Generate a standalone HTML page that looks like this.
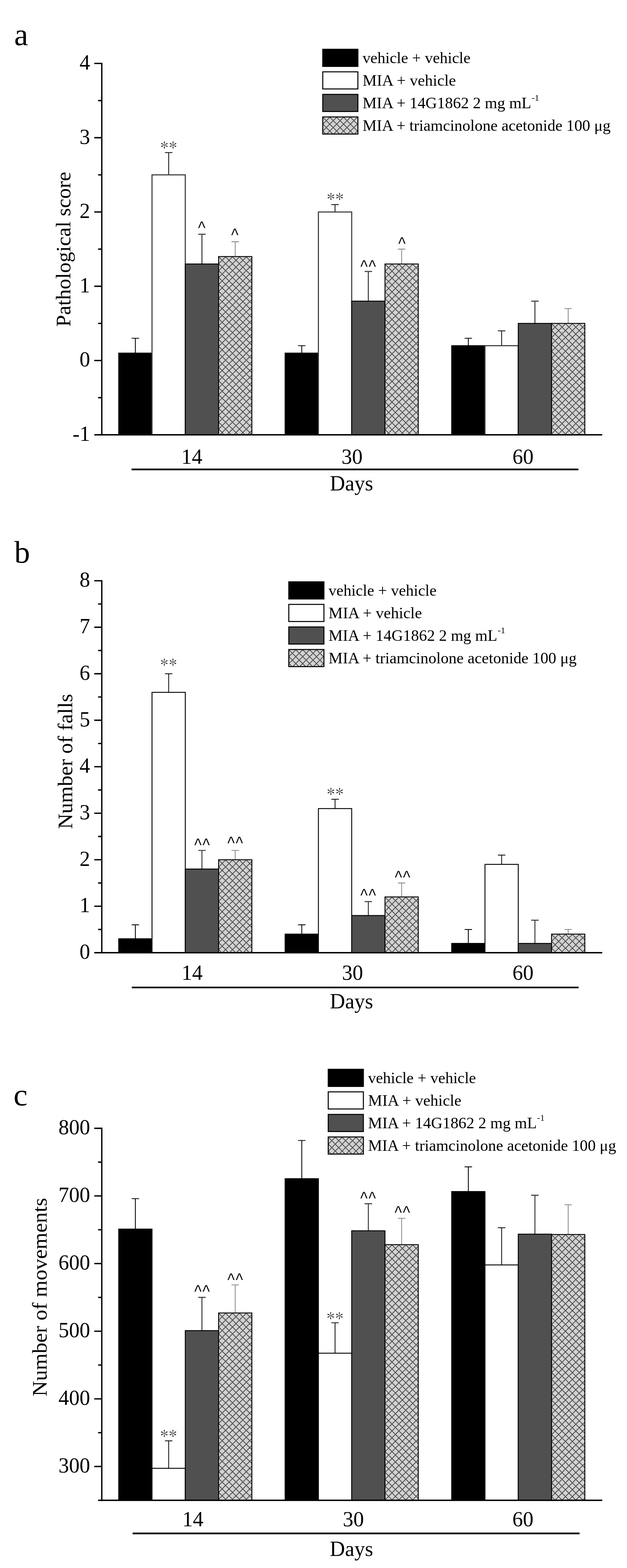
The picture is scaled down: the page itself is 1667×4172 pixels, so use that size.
<!DOCTYPE html>
<html lang="en"><head><meta charset="utf-8"><title>Figure: MIA osteoarthritis model - pathological score, falls and movements</title>
<style>
html,body{margin:0;padding:0;background:#ffffff;}
body{width:1667px;height:4172px;overflow:hidden;}
svg{display:block;}
text{font-family:"Liberation Serif", "DejaVu Serif", serif;fill:#000;}
.ax{font-size:56px;}
.lg{font-size:41.4px;}
.yl{font-size:54.8px;}
.pn{font-size:83.5px;}
.st{font-size:46px;stroke:#ffffff;stroke-width:0.8px;}
.ct{font-size:46px;font-family:"Liberation Sans", "DejaVu Sans", sans-serif;stroke:#ffffff;stroke-width:0.3px;}
</style></head><body>
<svg width="1667" height="4172" viewBox="0 0 1667 4172" role="img" aria-label="Bar charts a, b and c">
<defs>
<path id="hx" d="M-18.03 -145.84l132.66 132.66M-18.03 -127.51l132.66 132.66M-18.03 -109.18l132.66 132.66M-18.03 -90.85l132.66 132.66M-18.03 -72.52l132.66 132.66M-18.03 -54.19l132.66 132.66M-18.03 -35.86l132.66 132.66M-18.03 -17.53l132.66 132.66M-18.03 0.8l132.66 132.66M-18.03 19.13l132.66 132.66M-18.03 37.46l132.66 132.66M-18.03 55.79l132.66 132.66M-18.03 74.12l132.66 132.66M-18.03 92.45l132.66 132.66M-18.03 110.78l132.66 132.66M-18.03 129.11l132.66 132.66M-18.03 147.44l132.66 132.66M-18.03 165.77l132.66 132.66M-18.03 184.1l132.66 132.66M-18.03 202.43l132.66 132.66M-18.03 220.76l132.66 132.66M-18.03 239.09l132.66 132.66M-18.03 257.42l132.66 132.66M-18.03 275.75l132.66 132.66M-18.03 294.08l132.66 132.66M-18.03 312.41l132.66 132.66M-18.03 330.74l132.66 132.66M-18.03 349.07l132.66 132.66M-18.03 367.4l132.66 132.66M-18.03 385.73l132.66 132.66M-18.03 404.06l132.66 132.66M-18.03 422.39l132.66 132.66M-18.03 440.72l132.66 132.66M-18.03 459.05l132.66 132.66M-18.03 477.38l132.66 132.66M-18.03 495.71l132.66 132.66M-18.03 514.04l132.66 132.66M-18.03 532.37l132.66 132.66M-18.03 550.7l132.66 132.66M-18.03 569.03l132.66 132.66M-18.03 587.36l132.66 132.66M-18.03 605.69l132.66 132.66M-18.03 624.02l132.66 132.66M-18.03 642.35l132.66 132.66M-18.03 660.68l132.66 132.66M-18.03 679.01l132.66 132.66M-18.03 697.34l132.66 132.66M-18.03 715.67l132.66 132.66M-18.03 734l132.66 132.66M-18.03 752.33l132.66 132.66M-18.03 770.66l132.66 132.66M-18.03 788.99l132.66 132.66M-18.03 807.32l132.66 132.66M-18.03 825.65l132.66 132.66M-18.03 843.98l132.66 132.66M-18.03 862.31l132.66 132.66M-18.03 880.64l132.66 132.66M-18.03 898.97l132.66 132.66M-18.03 917.3l132.66 132.66M-18.03 935.63l132.66 132.66M-18.03 953.96l132.66 132.66M-18.03 972.29l132.66 132.66M-18.03 990.62l132.66 132.66M-18.03 1008.95l132.66 132.66M-18.03 19.13l132.66 -132.66M-18.03 37.46l132.66 -132.66M-18.03 55.79l132.66 -132.66M-18.03 74.12l132.66 -132.66M-18.03 92.45l132.66 -132.66M-18.03 110.78l132.66 -132.66M-18.03 129.11l132.66 -132.66M-18.03 147.44l132.66 -132.66M-18.03 165.77l132.66 -132.66M-18.03 184.1l132.66 -132.66M-18.03 202.43l132.66 -132.66M-18.03 220.76l132.66 -132.66M-18.03 239.09l132.66 -132.66M-18.03 257.42l132.66 -132.66M-18.03 275.75l132.66 -132.66M-18.03 294.08l132.66 -132.66M-18.03 312.41l132.66 -132.66M-18.03 330.74l132.66 -132.66M-18.03 349.07l132.66 -132.66M-18.03 367.4l132.66 -132.66M-18.03 385.73l132.66 -132.66M-18.03 404.06l132.66 -132.66M-18.03 422.39l132.66 -132.66M-18.03 440.72l132.66 -132.66M-18.03 459.05l132.66 -132.66M-18.03 477.38l132.66 -132.66M-18.03 495.71l132.66 -132.66M-18.03 514.04l132.66 -132.66M-18.03 532.37l132.66 -132.66M-18.03 550.7l132.66 -132.66M-18.03 569.03l132.66 -132.66M-18.03 587.36l132.66 -132.66M-18.03 605.69l132.66 -132.66M-18.03 624.02l132.66 -132.66M-18.03 642.35l132.66 -132.66M-18.03 660.68l132.66 -132.66M-18.03 679.01l132.66 -132.66M-18.03 697.34l132.66 -132.66M-18.03 715.67l132.66 -132.66M-18.03 734l132.66 -132.66M-18.03 752.33l132.66 -132.66M-18.03 770.66l132.66 -132.66M-18.03 788.99l132.66 -132.66M-18.03 807.32l132.66 -132.66M-18.03 825.65l132.66 -132.66M-18.03 843.98l132.66 -132.66M-18.03 862.31l132.66 -132.66M-18.03 880.64l132.66 -132.66M-18.03 898.97l132.66 -132.66M-18.03 917.3l132.66 -132.66M-18.03 935.63l132.66 -132.66M-18.03 953.96l132.66 -132.66M-18.03 972.29l132.66 -132.66M-18.03 990.62l132.66 -132.66M-18.03 1008.95l132.66 -132.66M-18.03 1027.28l132.66 -132.66M-18.03 1045.61l132.66 -132.66M-18.03 1063.94l132.66 -132.66M-18.03 1082.27l132.66 -132.66M-18.03 1100.6l132.66 -132.66M-18.03 1118.93l132.66 -132.66M-18.03 1137.26l132.66 -132.66" fill="none"/>
<g id="hf">
<rect x="-2" y="-2" width="100" height="1004" fill="#d2d2d2"/>
<use href="#hx" stroke="#646464" stroke-width="1.95"/>
<use href="#hx" stroke="#1c1c1c" stroke-width="1.7" stroke-dasharray="1.500 1.740" stroke-dashoffset="0.750"/>
</g>
</defs>
<rect x="0" y="0" width="1667" height="4172" fill="#ffffff"/>
<g id="panel-a">
<path d="M359.9 939.52V899.99M350 899.99H369.8" stroke="#000000" stroke-width="2.2" fill="none"/>
<rect x="315.65" y="939.52" width="88.5" height="217.38" fill="#000000" stroke="#000000" stroke-width="2.4"/>
<path d="M448.4 465.23V405.94M438.5 405.94H458.3" stroke="#2a2a2a" stroke-width="2.5" fill="none"/>
<rect x="404.15" y="465.23" width="88.5" height="691.67" fill="#ffffff" stroke="#3c3c3c" stroke-width="2.9"/>
<path d="M536.9 702.37V623.33M527 623.33H546.8" stroke="#4a4a4a" stroke-width="3.0" fill="none"/>
<rect x="492.65" y="702.37" width="88.5" height="454.53" fill="#505050" stroke="#000000" stroke-width="2.4"/>
<path d="M625.4 682.61V643.09M615.5 643.09H635.3" stroke="#868686" stroke-width="2.1" fill="none"/>
<svg x="581.15" y="682.61" width="88.5" height="474.29" overflow="hidden"><use href="#hf"/></svg>
<rect x="581.15" y="682.61" width="88.5" height="474.29" fill="none" stroke="#000000" stroke-width="2.4"/>
<path d="M802.3 939.52V919.76M792.4 919.76H812.2" stroke="#000000" stroke-width="2.2" fill="none"/>
<rect x="758.05" y="939.52" width="88.5" height="217.38" fill="#000000" stroke="#000000" stroke-width="2.4"/>
<path d="M890.8 564.04V544.28M880.9 544.28H900.7" stroke="#2a2a2a" stroke-width="2.5" fill="none"/>
<rect x="846.55" y="564.04" width="88.5" height="592.86" fill="#ffffff" stroke="#3c3c3c" stroke-width="2.9"/>
<path d="M979.3 801.18V722.14M969.4 722.14H989.2" stroke="#4a4a4a" stroke-width="3.0" fill="none"/>
<rect x="935.05" y="801.18" width="88.5" height="355.72" fill="#505050" stroke="#000000" stroke-width="2.4"/>
<path d="M1067.8 702.37V662.85M1057.9 662.85H1077.7" stroke="#868686" stroke-width="2.1" fill="none"/>
<svg x="1023.55" y="702.37" width="88.5" height="454.53" overflow="hidden"><use href="#hf"/></svg>
<rect x="1023.55" y="702.37" width="88.5" height="454.53" fill="none" stroke="#000000" stroke-width="2.4"/>
<path d="M1245.15 919.76V899.99M1235.25 899.99H1255.05" stroke="#000000" stroke-width="2.2" fill="none"/>
<rect x="1200.9" y="919.76" width="88.5" height="237.14" fill="#000000" stroke="#000000" stroke-width="2.4"/>
<path d="M1333.65 919.76V880.23M1323.75 880.23H1343.55" stroke="#2a2a2a" stroke-width="2.5" fill="none"/>
<rect x="1289.4" y="919.76" width="88.5" height="237.14" fill="#ffffff" stroke="#3c3c3c" stroke-width="2.9"/>
<path d="M1422.15 860.47V801.18M1412.25 801.18H1432.05" stroke="#4a4a4a" stroke-width="3.0" fill="none"/>
<rect x="1377.9" y="860.47" width="88.5" height="296.43" fill="#505050" stroke="#000000" stroke-width="2.4"/>
<path d="M1510.65 860.47V820.95M1500.75 820.95H1520.55" stroke="#868686" stroke-width="2.1" fill="none"/>
<svg x="1466.4" y="860.47" width="88.5" height="296.43" overflow="hidden"><use href="#hf"/></svg>
<rect x="1466.4" y="860.47" width="88.5" height="296.43" fill="none" stroke="#000000" stroke-width="2.4"/>
<path d="M270.6 167V1158.7" stroke="#000" stroke-width="3.6" fill="none"/>
<path d="M268.8 1156.9H1601.2" stroke="#000" stroke-width="3.6" fill="none"/>
<path d="M250.6 168.8H270.6M250.6 366.42H270.6M250.6 564.04H270.6M250.6 761.66H270.6M250.6 959.28H270.6M250.6 1156.9H270.6M260.8 267.61H270.6M260.8 465.23H270.6M260.8 662.85H270.6M260.8 860.47H270.6M260.8 1058.09H270.6" stroke="#000" stroke-width="3.6" fill="none"/>
<text class="ax" x="239.6" y="185" text-anchor="end">4</text>
<text class="ax" x="239.6" y="382.62" text-anchor="end">3</text>
<text class="ax" x="239.6" y="580.24" text-anchor="end">2</text>
<text class="ax" x="239.6" y="777.86" text-anchor="end">1</text>
<text class="ax" x="239.6" y="975.48" text-anchor="end">0</text>
<text class="ax" x="239.6" y="1173.1" text-anchor="end">-1</text>
<text class="yl" transform="translate(186.5 663.2) rotate(-90)" x="-206.05" y="0" textLength="412.1" lengthAdjust="spacingAndGlyphs">Pathological score</text>
<text class="ax" x="509.9" y="1234.3" text-anchor="middle">14</text>
<text class="ax" x="936" y="1234.3" text-anchor="middle">30</text>
<text class="ax" x="1390.6" y="1234.3" text-anchor="middle">60</text>
<path d="M349.8 1249H1537.8" stroke="#000" stroke-width="4.3" fill="none"/>
<text class="ax" x="934.6" y="1304.5" text-anchor="middle">Days</text>
<text class="st" transform="translate(448.45 384.2) scale(1.0 1.17)" x="0" y="22.75" text-anchor="middle">**</text>
<text class="ct" transform="translate(536.3 598.3) scale(0.915 1.095)" x="0" y="22.9" text-anchor="middle">^</text>
<text class="ct" transform="translate(624.4 617.4) scale(0.915 1.095)" x="0" y="22.9" text-anchor="middle">^</text>
<text class="st" transform="translate(891.3 521.8) scale(1.0 1.17)" x="0" y="22.75" text-anchor="middle">**</text>
<text class="ct" transform="translate(978.9 700.85) scale(0.915 1.095)" x="-11.97 11.97" y="22.9" text-anchor="middle">^^</text>
<text class="ct" transform="translate(1068.7 640.1) scale(0.915 1.095)" x="0" y="22.9" text-anchor="middle">^</text>
<rect x="858.1" y="131.1" width="93.4" height="45.6" fill="#000000" stroke="#000000" stroke-width="2.7"/>
<text class="lg" x="963.9" y="168.2" textLength="287" lengthAdjust="spacingAndGlyphs">vehicle + vehicle</text>
<rect x="858.1" y="191.1" width="93.4" height="45.6" fill="#ffffff" stroke="#000000" stroke-width="2.7"/>
<text class="lg" x="963.9" y="228.2" textLength="248.2" lengthAdjust="spacingAndGlyphs">MIA + vehicle</text>
<rect x="858.1" y="251.1" width="93.4" height="45.6" fill="#505050" stroke="#000000" stroke-width="2.7"/>
<text class="lg" x="963.9" y="288.2" textLength="448.6" lengthAdjust="spacingAndGlyphs">MIA + 14G1862 2 mg mL</text>
<text class="lg" x="1413.5" y="268.2" style="font-size:24px">-1</text>
<svg x="858.1" y="311.1" width="93.4" height="45.6" overflow="hidden"><use href="#hf"/></svg>
<rect x="858.1" y="311.1" width="93.4" height="45.6" fill="none" stroke="#000000" stroke-width="2.7"/>
<text class="lg" x="963.9" y="348.2" textLength="659.6" lengthAdjust="spacingAndGlyphs">MIA + triamcinolone acetonide 100 μg</text>
<text class="pn" x="37.8" y="120">a</text>
</g>
<g id="panel-b">
<path d="M359.9 2497.79V2460.67M350 2460.67H369.8" stroke="#000000" stroke-width="2.2" fill="none"/>
<rect x="315.65" y="2497.79" width="88.5" height="37.11" fill="#000000" stroke="#000000" stroke-width="2.4"/>
<path d="M448.4 1842.11V1792.62M438.5 1792.62H458.3" stroke="#101010" stroke-width="2.2" fill="none"/>
<rect x="404.15" y="1842.11" width="88.5" height="692.79" fill="#ffffff" stroke="#000000" stroke-width="2.4"/>
<path d="M536.9 2312.22V2262.73M527 2262.73H546.8" stroke="#424242" stroke-width="2.7" fill="none"/>
<rect x="492.65" y="2312.22" width="88.5" height="222.68" fill="#505050" stroke="#000000" stroke-width="2.4"/>
<path d="M625.4 2287.47V2262.73M615.5 2262.73H635.3" stroke="#868686" stroke-width="2.1" fill="none"/>
<svg x="581.15" y="2287.47" width="88.5" height="247.43" overflow="hidden"><use href="#hf"/></svg>
<rect x="581.15" y="2287.47" width="88.5" height="247.43" fill="none" stroke="#000000" stroke-width="2.4"/>
<path d="M802.3 2485.41V2460.67M792.4 2460.67H812.2" stroke="#000000" stroke-width="2.2" fill="none"/>
<rect x="758.05" y="2485.41" width="88.5" height="49.49" fill="#000000" stroke="#000000" stroke-width="2.4"/>
<path d="M890.8 2151.39V2126.65M880.9 2126.65H900.7" stroke="#101010" stroke-width="2.2" fill="none"/>
<rect x="846.55" y="2151.39" width="88.5" height="383.51" fill="#ffffff" stroke="#000000" stroke-width="2.4"/>
<path d="M979.3 2435.93V2398.82M969.4 2398.82H989.2" stroke="#424242" stroke-width="2.7" fill="none"/>
<rect x="935.05" y="2435.93" width="88.5" height="98.97" fill="#505050" stroke="#000000" stroke-width="2.4"/>
<path d="M1067.8 2386.45V2349.33M1057.9 2349.33H1077.7" stroke="#868686" stroke-width="2.1" fill="none"/>
<svg x="1023.55" y="2386.45" width="88.5" height="148.45" overflow="hidden"><use href="#hf"/></svg>
<rect x="1023.55" y="2386.45" width="88.5" height="148.45" fill="none" stroke="#000000" stroke-width="2.4"/>
<path d="M1245.15 2510.16V2473.04M1235.25 2473.04H1255.05" stroke="#000000" stroke-width="2.2" fill="none"/>
<rect x="1200.9" y="2510.16" width="88.5" height="24.74" fill="#000000" stroke="#000000" stroke-width="2.4"/>
<path d="M1333.65 2299.85V2275.1M1323.75 2275.1H1343.55" stroke="#101010" stroke-width="2.2" fill="none"/>
<rect x="1289.4" y="2299.85" width="88.5" height="235.05" fill="#ffffff" stroke="#000000" stroke-width="2.4"/>
<path d="M1422.15 2510.16V2448.3M1412.25 2448.3H1432.05" stroke="#424242" stroke-width="2.7" fill="none"/>
<rect x="1377.9" y="2510.16" width="88.5" height="24.74" fill="#505050" stroke="#000000" stroke-width="2.4"/>
<path d="M1510.65 2485.41V2473.04M1500.75 2473.04H1520.55" stroke="#868686" stroke-width="2.1" fill="none"/>
<svg x="1466.4" y="2485.41" width="88.5" height="49.49" overflow="hidden"><use href="#hf"/></svg>
<rect x="1466.4" y="2485.41" width="88.5" height="49.49" fill="none" stroke="#000000" stroke-width="2.4"/>
<path d="M270.6 1543.4V2536.7" stroke="#000" stroke-width="3.6" fill="none"/>
<path d="M268.8 2534.9H1601.2" stroke="#000" stroke-width="3.6" fill="none"/>
<path d="M250.6 1545.2H270.6M250.6 1668.91H270.6M250.6 1792.62H270.6M250.6 1916.34H270.6M250.6 2040.05H270.6M250.6 2163.76H270.6M250.6 2287.47H270.6M250.6 2411.19H270.6M250.6 2534.9H270.6M260.8 1607.06H270.6M260.8 1730.77H270.6M260.8 1854.48H270.6M260.8 1978.19H270.6M260.8 2101.91H270.6M260.8 2225.62H270.6M260.8 2349.33H270.6M260.8 2473.04H270.6" stroke="#000" stroke-width="3.6" fill="none"/>
<text class="ax" x="239.6" y="1561.4" text-anchor="end">8</text>
<text class="ax" x="239.6" y="1685.11" text-anchor="end">7</text>
<text class="ax" x="239.6" y="1808.83" text-anchor="end">6</text>
<text class="ax" x="239.6" y="1932.54" text-anchor="end">5</text>
<text class="ax" x="239.6" y="2056.25" text-anchor="end">4</text>
<text class="ax" x="239.6" y="2179.96" text-anchor="end">3</text>
<text class="ax" x="239.6" y="2303.67" text-anchor="end">2</text>
<text class="ax" x="239.6" y="2427.39" text-anchor="end">1</text>
<text class="ax" x="239.6" y="2551.1" text-anchor="end">0</text>
<text class="yl" transform="translate(191.7 2025.9) rotate(-90)" x="-179.75" y="0" textLength="359.5" lengthAdjust="spacingAndGlyphs">Number of falls</text>
<text class="ax" x="510.8" y="2607.4" text-anchor="middle">14</text>
<text class="ax" x="937.2" y="2607.4" text-anchor="middle">30</text>
<text class="ax" x="1390.6" y="2607.4" text-anchor="middle">60</text>
<path d="M350.5 2627.4H1538.3" stroke="#000" stroke-width="4.3" fill="none"/>
<text class="ax" x="934.6" y="2683" text-anchor="middle">Days</text>
<text class="st" transform="translate(448.35 1760.4) scale(1.0 1.17)" x="0" y="22.75" text-anchor="middle">**</text>
<text class="ct" transform="translate(537.3 2240.3) scale(0.915 1.095)" x="-11.97 11.97" y="22.9" text-anchor="middle">^^</text>
<text class="ct" transform="translate(625.4 2234.5) scale(0.915 1.095)" x="-11.97 11.97" y="22.9" text-anchor="middle">^^</text>
<text class="st" transform="translate(891.3 2104.1) scale(1.0 1.17)" x="0" y="22.75" text-anchor="middle">**</text>
<text class="ct" transform="translate(978.9 2374.3) scale(0.915 1.095)" x="-11.97 11.97" y="22.9" text-anchor="middle">^^</text>
<text class="ct" transform="translate(1070.2 2326.3) scale(0.915 1.095)" x="-11.97 11.97" y="22.9" text-anchor="middle">^^</text>
<rect x="767.8" y="1548.1" width="93.4" height="45.6" fill="#000000" stroke="#000000" stroke-width="2.7"/>
<text class="lg" x="873.6" y="1585.2" textLength="287" lengthAdjust="spacingAndGlyphs">vehicle + vehicle</text>
<rect x="767.8" y="1608.1" width="93.4" height="45.6" fill="#ffffff" stroke="#000000" stroke-width="2.7"/>
<text class="lg" x="873.6" y="1645.2" textLength="248.2" lengthAdjust="spacingAndGlyphs">MIA + vehicle</text>
<rect x="767.8" y="1668.1" width="93.4" height="45.6" fill="#505050" stroke="#000000" stroke-width="2.7"/>
<text class="lg" x="873.6" y="1705.2" textLength="448.6" lengthAdjust="spacingAndGlyphs">MIA + 14G1862 2 mg mL</text>
<text class="lg" x="1323.2" y="1685.2" style="font-size:24px">-1</text>
<svg x="767.8" y="1728.1" width="93.4" height="45.6" overflow="hidden"><use href="#hf"/></svg>
<rect x="767.8" y="1728.1" width="93.4" height="45.6" fill="none" stroke="#000000" stroke-width="2.7"/>
<text class="lg" x="873.6" y="1765.2" textLength="659.6" lengthAdjust="spacingAndGlyphs">MIA + triamcinolone acetonide 100 μg</text>
<text class="pn" x="38" y="1496.6">b</text>
</g>
<g id="panel-c">
<path d="M359.9 3270.25V3189.26M350 3189.26H369.8" stroke="#000000" stroke-width="2.2" fill="none"/>
<rect x="315.65" y="3270.25" width="88.5" height="721.65" fill="#000000" stroke="#000000" stroke-width="2.4"/>
<path d="M448.4 3906.78V3833.53M438.5 3833.53H458.3" stroke="#101010" stroke-width="2.2" fill="none"/>
<rect x="404.15" y="3906.78" width="88.5" height="85.12" fill="#ffffff" stroke="#000000" stroke-width="2.4"/>
<path d="M536.9 3540.37V3452.01M527 3452.01H546.8" stroke="#454545" stroke-width="2.8" fill="none"/>
<rect x="492.65" y="3540.37" width="88.5" height="451.53" fill="#505050" stroke="#000000" stroke-width="2.4"/>
<path d="M625.4 3493.4V3418.72M615.5 3418.72H635.3" stroke="#868686" stroke-width="2.1" fill="none"/>
<svg x="581.15" y="3493.4" width="88.5" height="498.5" overflow="hidden"><use href="#hf"/></svg>
<rect x="581.15" y="3493.4" width="88.5" height="498.5" fill="none" stroke="#000000" stroke-width="2.4"/>
<path d="M802.3 3136.17V3034.49M792.4 3034.49H812.2" stroke="#000000" stroke-width="2.2" fill="none"/>
<rect x="758.05" y="3136.17" width="88.5" height="855.73" fill="#000000" stroke="#000000" stroke-width="2.4"/>
<path d="M890.8 3600.48V3519.5M880.9 3519.5H900.7" stroke="#101010" stroke-width="2.2" fill="none"/>
<rect x="846.55" y="3600.48" width="88.5" height="391.42" fill="#ffffff" stroke="#000000" stroke-width="2.4"/>
<path d="M979.3 3274.74V3202.76M969.4 3202.76H989.2" stroke="#454545" stroke-width="2.8" fill="none"/>
<rect x="935.05" y="3274.74" width="88.5" height="717.16" fill="#505050" stroke="#000000" stroke-width="2.4"/>
<path d="M1067.8 3311.64V3241.45M1057.9 3241.45H1077.7" stroke="#868686" stroke-width="2.1" fill="none"/>
<svg x="1023.55" y="3311.64" width="88.5" height="680.26" overflow="hidden"><use href="#hf"/></svg>
<rect x="1023.55" y="3311.64" width="88.5" height="680.26" fill="none" stroke="#000000" stroke-width="2.4"/>
<path d="M1245.15 3170.37V3104.68M1235.25 3104.68H1255.05" stroke="#000000" stroke-width="2.2" fill="none"/>
<rect x="1200.9" y="3170.37" width="88.5" height="821.53" fill="#000000" stroke="#000000" stroke-width="2.4"/>
<path d="M1333.65 3365.63V3266.65M1323.75 3266.65H1343.55" stroke="#101010" stroke-width="2.2" fill="none"/>
<rect x="1289.4" y="3365.63" width="88.5" height="626.27" fill="#ffffff" stroke="#000000" stroke-width="2.4"/>
<path d="M1422.15 3283.74V3180.26M1412.25 3180.26H1432.05" stroke="#454545" stroke-width="2.8" fill="none"/>
<rect x="1377.9" y="3283.74" width="88.5" height="708.16" fill="#505050" stroke="#000000" stroke-width="2.4"/>
<path d="M1510.65 3284.64V3205.46M1500.75 3205.46H1520.55" stroke="#868686" stroke-width="2.1" fill="none"/>
<svg x="1466.4" y="3284.64" width="88.5" height="707.26" overflow="hidden"><use href="#hf"/></svg>
<rect x="1466.4" y="3284.64" width="88.5" height="707.26" fill="none" stroke="#000000" stroke-width="2.4"/>
<path d="M270.6 3000.3V3993.7" stroke="#000" stroke-width="3.6" fill="none"/>
<path d="M268.8 3991.9H1601.2" stroke="#000" stroke-width="3.6" fill="none"/>
<path d="M250.6 3002.1H270.6M250.6 3182.06H270.6M250.6 3362.03H270.6M250.6 3541.99H270.6M250.6 3721.95H270.6M250.6 3901.92H270.6M260.8 3092.08H270.6M260.8 3272.05H270.6M260.8 3452.01H270.6M260.8 3631.97H270.6M260.8 3811.94H270.6M260.8 3991.9H270.6" stroke="#000" stroke-width="3.6" fill="none"/>
<text class="ax" x="239.6" y="3018.3" text-anchor="end">800</text>
<text class="ax" x="239.6" y="3198.26" text-anchor="end">700</text>
<text class="ax" x="239.6" y="3378.23" text-anchor="end">600</text>
<text class="ax" x="239.6" y="3558.19" text-anchor="end">500</text>
<text class="ax" x="239.6" y="3738.15" text-anchor="end">400</text>
<text class="ax" x="239.6" y="3918.12" text-anchor="end">300</text>
<text class="yl" transform="translate(124 3451.4) rotate(-90)" x="-264.1" y="0" textLength="528.2" lengthAdjust="spacingAndGlyphs">Number of movements</text>
<text class="ax" x="512.7" y="4061" text-anchor="middle">14</text>
<text class="ax" x="939.6" y="4061" text-anchor="middle">30</text>
<text class="ax" x="1390.3" y="4061" text-anchor="middle">60</text>
<path d="M352.6 4080H1540.9" stroke="#000" stroke-width="4.3" fill="none"/>
<text class="ax" x="934.4" y="4139.9" text-anchor="middle">Days</text>
<text class="st" transform="translate(448.3 3811.9) scale(1.0 1.17)" x="0" y="22.75" text-anchor="middle">**</text>
<text class="ct" transform="translate(537.3 3428.1) scale(0.915 1.095)" x="-11.97 11.97" y="22.9" text-anchor="middle">^^</text>
<text class="ct" transform="translate(625.4 3396.5) scale(0.915 1.095)" x="-11.97 11.97" y="22.9" text-anchor="middle">^^</text>
<text class="st" transform="translate(890.7 3499.8) scale(1.0 1.17)" x="0" y="22.75" text-anchor="middle">**</text>
<text class="ct" transform="translate(978.6 3180.3) scale(0.915 1.095)" x="-11.97 11.97" y="22.9" text-anchor="middle">^^</text>
<text class="ct" transform="translate(1069.8 3217.6) scale(0.915 1.095)" x="-11.97 11.97" y="22.9" text-anchor="middle">^^</text>
<rect x="872.7" y="2845.1" width="93.4" height="45.6" fill="#000000" stroke="#000000" stroke-width="2.7"/>
<text class="lg" x="978.5" y="2882.2" textLength="287" lengthAdjust="spacingAndGlyphs">vehicle + vehicle</text>
<rect x="872.7" y="2905.1" width="93.4" height="45.6" fill="#ffffff" stroke="#000000" stroke-width="2.7"/>
<text class="lg" x="978.5" y="2942.2" textLength="248.2" lengthAdjust="spacingAndGlyphs">MIA + vehicle</text>
<rect x="872.7" y="2965.1" width="93.4" height="45.6" fill="#505050" stroke="#000000" stroke-width="2.7"/>
<text class="lg" x="978.5" y="3002.2" textLength="448.6" lengthAdjust="spacingAndGlyphs">MIA + 14G1862 2 mg mL</text>
<text class="lg" x="1428.1" y="2982.2" style="font-size:24px">-1</text>
<svg x="872.7" y="3025.1" width="93.4" height="45.6" overflow="hidden"><use href="#hf"/></svg>
<rect x="872.7" y="3025.1" width="93.4" height="45.6" fill="none" stroke="#000000" stroke-width="2.7"/>
<text class="lg" x="978.5" y="3062.2" textLength="659.6" lengthAdjust="spacingAndGlyphs">MIA + triamcinolone acetonide 100 μg</text>
<text class="pn" x="36" y="2941">c</text>
</g>
</svg>
</body></html>
